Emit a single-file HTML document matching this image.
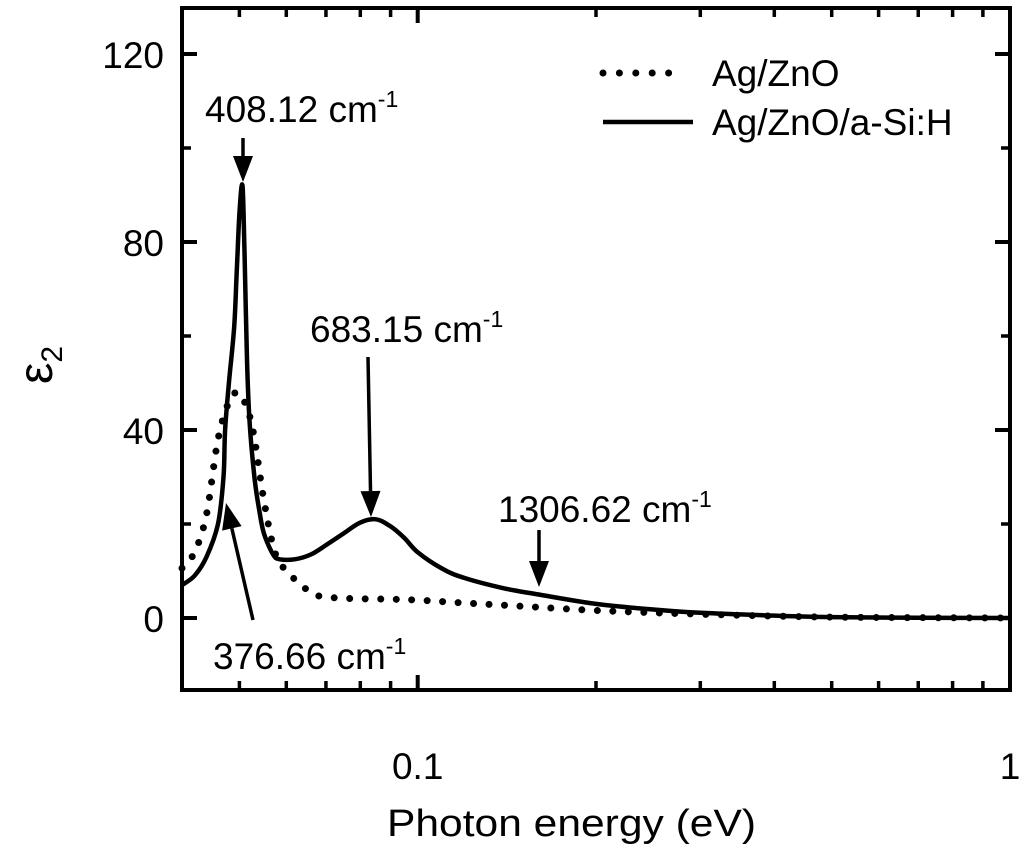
<!DOCTYPE html>
<html><head><meta charset="utf-8"><style>
body{margin:0;background:#fff;}
svg text{font-family:"Liberation Sans",Arial,sans-serif;fill:#000;}
</style></head><body>
<svg id="chart" width="1024" height="853" viewBox="0 0 1024 853" xmlns="http://www.w3.org/2000/svg">
<g id="plot"></g>
</svg>
<script>
const xTicksMajor = [0.1, 1];
const xTickLabels = ["0.1", "1"];
const xTicksMinor = [0.05,0.06,0.07,0.08,0.09,0.2,0.3,0.4,0.5,0.6,0.7,0.8,0.9];
const yTicksMajor = [0, 40, 80, 120];
const yTickLabels = ["0", "40", "80", "120"];
const yTicksMinor = [20, 60, 100];
const solidX = [0.04,0.042,0.044,0.046,0.047,0.0473,0.048,0.049,0.0495,0.05,0.0506,0.051,0.0515,0.052,0.053,0.054,0.055,0.057,0.0585,0.062,0.066,0.07,0.075,0.08,0.085,0.09,0.095,0.1,0.11,0.12,0.14,0.16,0.2,0.25,0.3,0.4,0.5,0.7,1];
const solidY = [7,9,13,20,30,40,50,62,74,86,92,78,55,42,30,23,18,13.5,12.5,12.5,13.5,15.5,18,20.3,21,19.5,17,14,10.5,8.5,6.3,5,3,1.8,1.1,0.5,0.2,0.05,0];
const dotX = [0.04,0.042,0.044,0.046,0.048,0.0496,0.051,0.0527,0.055,0.0574,0.06,0.0632,0.0672,0.075,0.09,0.1,0.12,0.15,0.2,0.3,0.5,1];
const dotY = [10.6,14,22,38,46,48,46,40,25,14,10,7.4,4.9,4.2,4,3.8,3.2,2.5,1.6,0.8,0.2,0];

const L=182,R=1010,T=8,B=690,X0=Math.log10(0.04),X1=0;
function sx(v){return L+(Math.log10(v)-X0)/(X1-X0)*(R-L);}
function sy(v){return 618-(v)*(618-430)/40;}
const NS="http://www.w3.org/2000/svg";
const g=document.getElementById('plot');
function el(t,a,p){const e=document.createElementNS(NS,t);for(const k in a)e.setAttribute(k,a[k]);(p||g).appendChild(e);return e;}
function smooth(xs,ys){
 const p=xs.map((x,i)=>[sx(x),sy(ys[i])]);
 let d='M'+p[0][0].toFixed(1)+','+p[0][1].toFixed(1);
 for(let i=0;i<p.length-1;i++){
  const p0=p[Math.max(0,i-1)],p1=p[i],p2=p[i+1],p3=p[Math.min(p.length-1,i+2)];
  const c1x=p1[0]+(p2[0]-p0[0])/6,c1y=p1[1]+(p2[1]-p0[1])/6;
  const c2x=p2[0]-(p3[0]-p1[0])/6,c2y=p2[1]-(p3[1]-p1[1])/6;
  d+=`C${c1x.toFixed(1)},${c1y.toFixed(1)} ${c2x.toFixed(1)},${c2y.toFixed(1)} ${p2[0].toFixed(1)},${p2[1].toFixed(1)}`;
 }
 return d;
}

const sl=el('path',{d:smooth(solidX,solidY),fill:'none',stroke:'#000','stroke-width':4.5,'stroke-linejoin':'round'});


const dl=el('path',{d:smooth(dotX,dotY),fill:'none',stroke:'#000','stroke-width':7,'stroke-linecap':'round','stroke-dasharray':'0 15.5'});



const fr=el('rect',{x:L,y:T,width:R-L,height:B-T,fill:'none',stroke:'#000','stroke-width':4});


xTicksMajor.forEach((v,i)=>{const x=sx(v);
 el('line',{x1:x,y1:B,x2:x,y2:B-15,stroke:'#000','stroke-width':4});
 el('line',{x1:x,y1:T,x2:x,y2:T+15,stroke:'#000','stroke-width':4});
 const t=el('text',{x:x,y:779,'font-size':37,'text-anchor':'middle'});t.textContent=xTickLabels[i];
 
 
});
xTicksMinor.forEach(v=>{const x=sx(v);
 el('line',{x1:x,y1:B,x2:x,y2:B-9,stroke:'#000','stroke-width':3.5});
 el('line',{x1:x,y1:T,x2:x,y2:T+9,stroke:'#000','stroke-width':3.5});});
yTicksMajor.forEach((v,i)=>{const y=sy(v);
 el('line',{x1:L,y1:y,x2:L+15,y2:y,stroke:'#000','stroke-width':4});
 el('line',{x1:R,y1:y,x2:R-15,y2:y,stroke:'#000','stroke-width':4});
 const t=el('text',{x:164,y:y+14,'font-size':37,'text-anchor':'end'});t.textContent=yTickLabels[i];
 
 
});
yTicksMinor.forEach(v=>{const y=sy(v);
 el('line',{x1:L,y1:y,x2:L+9,y2:y,stroke:'#000','stroke-width':3.5});
 el('line',{x1:R,y1:y,x2:R-9,y2:y,stroke:'#000','stroke-width':3.5});});

function arrow(x1,y1,x2,y2,name){
 const a=el('g',{});
 const ang=Math.atan2(y2-y1,x2-x1),hl=26,hw=10;
 const bx=x2-hl*Math.cos(ang),by=y2-hl*Math.sin(ang);
 el('line',{x1:x1,y1:y1,x2:bx,y2:by,stroke:'#000','stroke-width':3.5},a);
 const px=-Math.sin(ang)*hw,py=Math.cos(ang)*hw;
 el('polygon',{points:`${x2},${y2} ${bx+px},${by+py} ${bx-px},${by-py}`,fill:'#000'},a);
}
arrow(243,138,243,182,'arrow-408');
arrow(368,357,371,517,'arrow-683');
arrow(539,530,539,587,'arrow-1306');
arrow(253,620,226,503,'arrow-376');
function label(x,y,txt,name){
 const t=el('text',{x:x,y:y,'font-size':37});
 
 
 t.innerHTML=txt+' cm<tspan dy="-15" font-size="23">-1</tspan>';
}
label(205,122,'408.12','label-408');
label(310,342,'683.15','label-683');
label(498,522,'1306.62','label-1306');
label(213,669,'376.66','label-376');

const lg=el('g',{});
el('line',{x1:603,y1:73,x2:685,y2:73,stroke:'#000','stroke-width':7,'stroke-linecap':'round','stroke-dasharray':'0 16.4'},lg);
el('line',{x1:603,y1:122,x2:693,y2:122,stroke:'#000','stroke-width':4.5},lg);
let t=el('text',{x:712,y:86,'font-size':37},lg);t.textContent='Ag/ZnO';


t=el('text',{x:712,y:135,'font-size':37},lg);t.textContent='Ag/ZnO/a-Si:H';



t=el('text',{x:387,y:836,'font-size':38,textLength:369,lengthAdjust:'spacingAndGlyphs'});t.textContent='Photon energy (eV)';


t=el('text',{x:0,y:0,'font-size':48,transform:'translate(52,365) rotate(-90)','text-anchor':'middle'});
t.innerHTML='ε<tspan dy="10" font-size="30">2</tspan>';


</script>
</body></html>
